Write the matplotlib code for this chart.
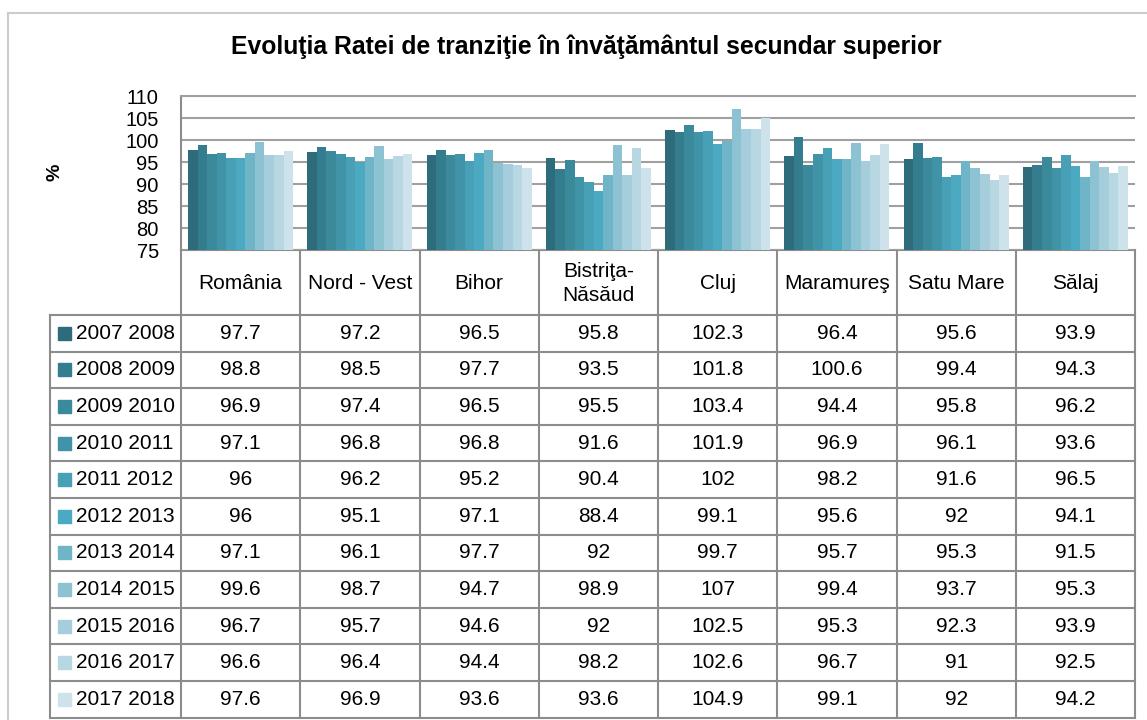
import matplotlib
matplotlib.use("Agg")
import matplotlib.pyplot as plt
import numpy as np

plt.rcParams['font.family'] = ['Liberation Sans', 'DejaVu Sans']

# date
regions = ['România', 'Nord - Vest', 'Bihor', 'Bistriţa-\nNăsăud', 'Cluj',
           'Maramureş', 'Satu Mare', 'Sălaj']
years = ['2007 2008', '2008 2009', '2009 2010', '2010 2011', '2011 2012',
         '2012 2013', '2013 2014', '2014 2015', '2015 2016', '2016 2017',
         '2017 2018']
v0708 = [97.7, 97.2, 96.5, 95.8, 102.3, 96.4, 95.6, 93.9]
v0809 = [98.8, 98.5, 97.7, 93.5, 101.8, 100.6, 99.4, 94.3]
v0910 = [96.9, 97.4, 96.5, 95.5, 103.4, 94.4, 95.8, 96.2]
v1011 = [97.1, 96.8, 96.8, 91.6, 101.9, 96.9, 96.1, 93.6]
v1112 = [96, 96.2, 95.2, 90.4, 102, 98.2, 91.6, 96.5]
v1213 = [96, 95.1, 97.1, 88.4, 99.1, 95.6, 92, 94.1]
v1314 = [97.1, 96.1, 97.7, 92, 99.7, 95.7, 95.3, 91.5]
v1415 = [99.6, 98.7, 94.7, 98.9, 107, 99.4, 93.7, 95.3]
v1516 = [96.7, 95.7, 94.6, 92, 102.5, 95.3, 92.3, 93.9]
v1617 = [96.6, 96.4, 94.4, 98.2, 102.6, 96.7, 91, 92.5]
v1718 = [97.6, 96.9, 93.6, 93.6, 104.9, 99.1, 92, 94.2]
series = [v0708, v0809, v0910, v1011, v1112, v1213, v1314, v1415, v1516,
          v1617, v1718]
colors = ['#2E6C7C', '#337D8E', '#3A8A9C', '#4194A7', '#47A0B5', '#4CA9C2',
          '#70B4C8', '#8DC2D3', '#A5CDDB', '#B7D7E2', '#CDE2EA']

W, H = 1147, 720
fig = plt.figure(figsize=(W / 100, H / 100), dpi=100)

# pixel layout
x0, x1 = 181, 1135
y_top, y_bot = 96, 250
head_bot = 315
row_h = 36.6
tab_left = 50
gcol = '#8c8c8c'
fs = 15

# overlay axes in pixel coords
ov = fig.add_axes([0, 0, 1, 1])
ov.set_xlim(0, W)
ov.set_ylim(H, 0)
ov.axis('off')

# chart frame
ov.plot([8, W], [13, 13], color='#cccccc', lw=1.5)
ov.plot([8, 8], [13, H], color='#cccccc', lw=1.5)

ov.text(586, 47, 'Evoluţia Ratei de tranziţie în învăţământul secundar superior',
        ha='center', va='center', fontsize=17.8, fontweight='bold')
ov.text(55, 172, '%', rotation=90, ha='center', va='center', fontsize=14,
        fontweight='bold')

# bar axes
ax = fig.add_axes([x0 / W, 1 - y_bot / H, (x1 - x0) / W, (y_bot - y_top) / H])
n = len(series)
gw = 0.88
bw = gw / n
xs = np.arange(len(regions))
for i, (vals, c) in enumerate(zip(series, colors)):
    ax.bar(xs - gw / 2 + bw * (i + 0.5), vals, width=bw, color=c, zorder=2)
ax.set_xlim(-0.5, len(regions) - 0.5)
ax.set_ylim(75, 110)
ax.set_yticks(np.arange(75, 111, 5))
ax.set_xticks([])
ax.yaxis.grid(True, color='#a0a0a0', lw=1.5, zorder=0)
for s in ['right', 'bottom']:
    ax.spines[s].set_visible(False)
ax.spines['top'].set_color('#a0a0a0')
ax.spines['top'].set_linewidth(1.5)
ax.spines['left'].set_color(gcol)
ax.spines['left'].set_linewidth(1.5)
ax.tick_params(axis='y', length=0, pad=16, labelsize=14.5)
ax.patch.set_alpha(0)

# table
cw = (x1 - x0) / len(regions)
y_end = head_bot + row_h * len(years)
ov.plot([x0, x1], [y_bot, y_bot], color=gcol, lw=1.5)
for j in range(len(regions) + 1):
    ov.plot([x0 + j * cw] * 2, [y_bot, y_end], color=gcol, lw=1.5)
ov.plot([tab_left, tab_left], [head_bot, y_end], color=gcol, lw=1.5)
for r in range(len(years) + 1):
    ov.plot([tab_left, x1], [head_bot + r * row_h] * 2, color=gcol, lw=1.5)

for j, name in enumerate(regions):
    ov.text(x0 + (j + 0.5) * cw, (y_bot + head_bot) / 2 + 1, name, ha='center',
            va='center', fontsize=fs, linespacing=1.35)

for r, (lab, vals, c) in enumerate(zip(years, series, colors)):
    yc = head_bot + (r + 0.5) * row_h
    ov.add_patch(plt.Rectangle((58, yc - 6.5), 13, 13, color=c))
    ov.text(76, yc, lab, ha='left', va='center', fontsize=fs)
    for j, v in enumerate(vals):
        ov.text(x0 + (j + 0.5) * cw, yc, f'{v:g}', ha='center', va='center',
                fontsize=fs)

fig.savefig('out.png', dpi=100)
